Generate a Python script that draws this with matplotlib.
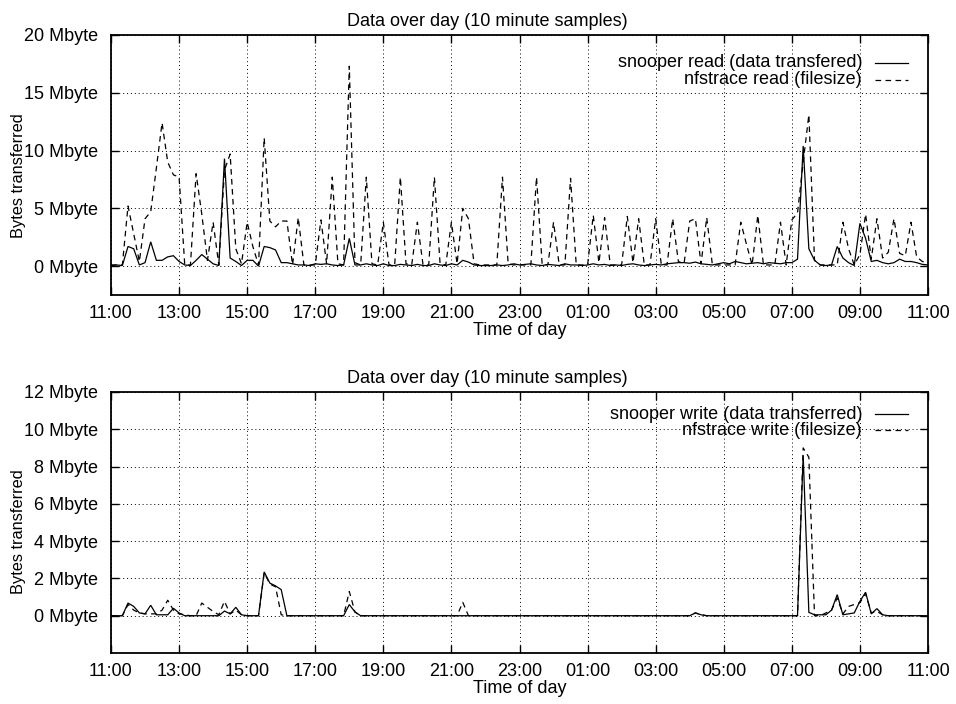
import numpy as np
import matplotlib
matplotlib.use("Agg")
import matplotlib.pyplot as plt
from matplotlib.lines import Line2D

# ---------------- data (10 minute samples starting 11:00) ----------------
sample_minutes = 10
tick_labels = ["11:00", "13:00", "15:00", "17:00", "19:00", "21:00", "23:00",
               "01:00", "03:00", "05:00", "07:00", "09:00", "11:00"]

read_snooper = [
    0.05, 0.1, 0.05, 1.7, 1.5, 0.1, 0.3, 2.1, 0.5, 0.5,
    0.8, 0.9, 0.4, 0.1, 0.05, 0.5, 1.0, 0.6, 0.2, 0.05,
    9.3, 0.7, 0.4, 0.05, 0.5, 0.5, 0.0, 1.7, 1.6, 1.4,
    0.3, 0.3, 0.2, 0.1, 0.1, 0.05, 0.2, 0.15, 0.2, 0.1,
    0.05, 0.1, 2.4, 0.1, 0.1, 0.2, 0.1, 0.05, 0.2, 0.05,
    0.05, 0.15, 0.1, 0.05, 0.15, 0.05, 0.05, 0.2, 0.1, 0.05,
    0.2, 0.1, 0.5, 0.35, 0.1, 0.05, 0.05, 0.05, 0.1, 0.05,
    0.1, 0.2, 0.1, 0.15, 0.2, 0.1, 0.05, 0.15, 0.1, 0.05,
    0.2, 0.1, 0.1, 0.05, 0.1, 0.2, 0.1, 0.15, 0.05, 0.1,
    0.05, 0.15, 0.2, 0.1, 0.05, 0.1, 0.15, 0.1, 0.2, 0.25,
    0.3, 0.3, 0.25, 0.35, 0.2, 0.15, 0.1, 0.2, 0.3, 0.2,
    0.4, 0.3, 0.2, 0.25, 0.3, 0.2, 0.3, 0.25, 0.2, 0.3,
    0.3, 0.6, 10.4, 1.5, 0.5, 0.1, 0.05, 0.1, 1.7, 0.7,
    0.3, 0.05, 3.7, 2.4, 0.4, 0.5, 0.3, 0.2, 0.3, 0.6,
    0.4, 0.4, 0.3, 0.15, 0.1,
]

read_nfstrace = [
    0.1, 0.1, 0.1, 5.2, 2.8, 0.4, 4.1, 4.7, 8.5, 12.4,
    9.0, 7.9, 7.7, 0.1, 0.1, 8.0, 4.5, 0.5, 3.8, 0.1,
    8.3, 9.7, 1.5, 0.2, 3.8, 1.7, 0.1, 11.1, 3.9, 3.4,
    3.9, 3.9, 0.1, 4.2, 0.1, 0.1, 0.1, 4.0, 0.2, 7.7,
    0.2, 0.1, 17.3, 0.3, 0.1, 7.7, 0.2, 0.1, 3.8, 0.1,
    0.1, 7.7, 0.2, 0.1, 3.8, 0.1, 0.1, 7.7, 0.2, 0.1,
    3.8, 0.2, 5.0, 4.1, 0.2, 0.1, 0.1, 0.1, 0.1, 7.7,
    0.2, 0.1, 0.1, 0.1, 0.1, 7.7, 0.1, 0.1, 3.8, 0.1,
    0.1, 7.6, 0.1, 0.1, 0.1, 4.4, 0.3, 4.2, 0.1, 0.1,
    0.1, 4.3, 0.3, 4.1, 0.1, 0.1, 4.1, 0.1, 0.1, 4.1,
    0.4, 0.2, 3.9, 4.1, 0.2, 4.2, 0.1, 0.1, 0.1, 0.1,
    0.1, 3.8, 1.9, 0.1, 4.4, 0.1, 0.1, 0.1, 3.8, 0.1,
    4.0, 4.6, 9.0, 13.1, 0.5, 0.1, 0.1, 0.1, 0.1, 3.8,
    1.5, 0.1, 1.0, 4.5, 0.6, 4.1, 0.7, 1.2, 4.1, 1.1,
    0.9, 3.8, 0.8, 0.4, 0.3,
]

write_snooper = [
    0.0, 0.0, 0.0, 0.68, 0.5, 0.15, 0.1, 0.56, 0.05, 0.05,
    0.05, 0.4, 0.15, 0.0, 0.0, 0.0, 0.0, 0.0, 0.0, 0.0,
    0.25, 0.1, 0.45, 0.05, 0.0, 0.0, 0.0, 2.35, 1.75, 1.6,
    1.4, 0.0, 0.0, 0.0, 0.0, 0.0, 0.0, 0.0, 0.0, 0.0,
    0.0, 0.0, 0.6, 0.2, 0.0, 0.0, 0.0, 0.0, 0.0, 0.0,
    0.0, 0.0, 0.0, 0.0, 0.0, 0.0, 0.0, 0.0, 0.0, 0.0,
    0.0, 0.0, 0.0, 0.0, 0.0, 0.0, 0.0, 0.0, 0.0, 0.0,
    0.0, 0.0, 0.0, 0.0, 0.0, 0.0, 0.0, 0.0, 0.0, 0.0,
    0.0, 0.0, 0.0, 0.0, 0.0, 0.0, 0.0, 0.0, 0.0, 0.0,
    0.0, 0.0, 0.0, 0.0, 0.0, 0.0, 0.0, 0.0, 0.0, 0.0,
    0.0, 0.0, 0.0, 0.15, 0.05, 0.0, 0.0, 0.0, 0.0, 0.0,
    0.0, 0.0, 0.0, 0.0, 0.0, 0.0, 0.0, 0.0, 0.0, 0.0,
    0.0, 0.0, 8.6, 0.18, 0.05, 0.05, 0.05, 0.3, 1.13, 0.05,
    0.1, 0.15, 0.77, 1.26, 0.1, 0.38, 0.05, 0.0, 0.0, 0.0,
    0.0, 0.0, 0.0, 0.0, 0.0,
]

write_nfstrace = [
    0.0, 0.0, 0.0, 0.6, 0.3, 0.15, 0.1, 0.1, 0.1, 0.3,
    0.83, 0.3, 0.1, 0.05, 0.0, 0.0, 0.68, 0.45, 0.23, 0.05,
    0.77, 0.1, 0.3, 0.05, 0.0, 0.0, 0.0, 2.3, 1.7, 1.55,
    0.05, 0.0, 0.0, 0.0, 0.0, 0.0, 0.0, 0.0, 0.0, 0.0,
    0.0, 0.0, 1.3, 0.2, 0.0, 0.0, 0.0, 0.0, 0.0, 0.0,
    0.0, 0.0, 0.0, 0.0, 0.0, 0.0, 0.0, 0.0, 0.0, 0.0,
    0.0, 0.0, 0.72, 0.0, 0.0, 0.0, 0.0, 0.0, 0.0, 0.0,
    0.0, 0.0, 0.0, 0.0, 0.0, 0.0, 0.0, 0.0, 0.0, 0.0,
    0.0, 0.0, 0.0, 0.0, 0.0, 0.0, 0.0, 0.0, 0.0, 0.0,
    0.0, 0.0, 0.0, 0.0, 0.0, 0.0, 0.0, 0.0, 0.0, 0.0,
    0.0, 0.0, 0.0, 0.15, 0.05, 0.0, 0.0, 0.0, 0.0, 0.0,
    0.0, 0.0, 0.0, 0.0, 0.0, 0.0, 0.0, 0.0, 0.0, 0.0,
    0.0, 0.0, 9.0, 8.5, 0.0, 0.0, 0.15, 0.3, 0.95, 0.1,
    0.5, 0.6, 0.7, 1.18, 0.15, 0.23, 0.05, 0.0, 0.0, 0.0,
    0.0, 0.0, 0.0, 0.0, 0.0,
]

read_yticks = [0, 5, 10, 15, 20]
write_yticks = [0, 2, 4, 6, 8, 10, 12]

title_text = "Data over day (10 minute samples)"
xlabel_text = "Time of day"
ylabel_text = "Bytes transferred"
read_legend = ["snooper read (data transfered)", "nfstrace read (filesize)"]
write_legend = ["snooper write (data transferred)", "nfstrace write (filesize)"]

# ---------------- plotting ----------------
plt.rcParams["font.family"] = ["Liberation Sans", "DejaVu Sans"]
FS = 13

fig = plt.figure(figsize=(9.56, 7.04), dpi=100)
W, H = 956, 704
L, R = 111, 928
ax1 = fig.add_axes([L / W, 1 - 295 / H, (R - L) / W, (295 - 35) / H])
ax2 = fig.add_axes([L / W, 1 - 653 / H, (R - L) / W, (653 - 392) / H])


def style_axes(ax, yticks, ylim, top_px, bot_px, ylab_center_px):
    ax.set_xlim(0, 24)
    ax.set_ylim(*ylim)
    ax.set_xticks(np.arange(0, 25, 2))
    ax.set_xticklabels(tick_labels, fontsize=FS)
    ax.set_yticks(yticks)
    ax.set_yticklabels([f"{v} Mbyte" for v in yticks], fontsize=FS)
    ax.tick_params(direction="in", length=6, width=1.0, top=True, right=True,
                   colors="black")
    ax.tick_params(axis="x", pad=7)
    ax.tick_params(axis="y", pad=9)
    ax.grid(True, color="black", linewidth=0.7, linestyle=(0, (1, 3)))
    for s in ax.spines.values():
        s.set_linewidth(1.3)
        s.set_color("black")
    t = ax.set_title(title_text, fontsize=FS, pad=6.5)
    t.set_x((487 - L) / (R - L))
    ax.set_xlabel(xlabel_text, fontsize=FS, labelpad=0)
    ax.set_ylabel(ylabel_text, fontsize=11.8)
    ax.yaxis.set_label_coords((26 - L) / (R - L),
                              (bot_px - ylab_center_px) / (bot_px - top_px))


def plot_pair(ax, a, b, labels, rows):
    t_a = np.arange(len(a)) * sample_minutes / 60.0
    t_b = np.arange(len(b)) * sample_minutes / 60.0
    ax.plot(t_a, a, color="black", linewidth=0.9, solid_joinstyle="miter")
    ax.plot(t_b, b, color="black", linewidth=0.9, linestyle=(0, (4.5, 3.5)))
    xt = (862 - L) / (R - L)
    x0 = (875 - L) / (R - L)
    x1 = (908 - L) / (R - L)
    for lab, yr, ls in zip(labels, rows, ["-", (0, (4.5, 3.5))]):
        ax.text(xt, yr, lab, transform=ax.transAxes, ha="right", va="center",
                fontsize=FS)
        ax.add_line(Line2D([x0, x1], [yr, yr], transform=ax.transAxes,
                           color="black", linewidth=0.9, linestyle=ls))


style_axes(ax1, read_yticks, (-2.5, 20), 35, 295, 176)
style_axes(ax2, write_yticks, (-2, 12), 392, 653, 532)
plot_pair(ax1, read_snooper, read_nfstrace, read_legend,
          [(295 - 63) / 260, (295 - 80) / 260])
plot_pair(ax2, write_snooper, write_nfstrace, write_legend,
          [(653 - 414) / 261, (653 - 430) / 261])

fig.savefig("out.png", dpi=100)
